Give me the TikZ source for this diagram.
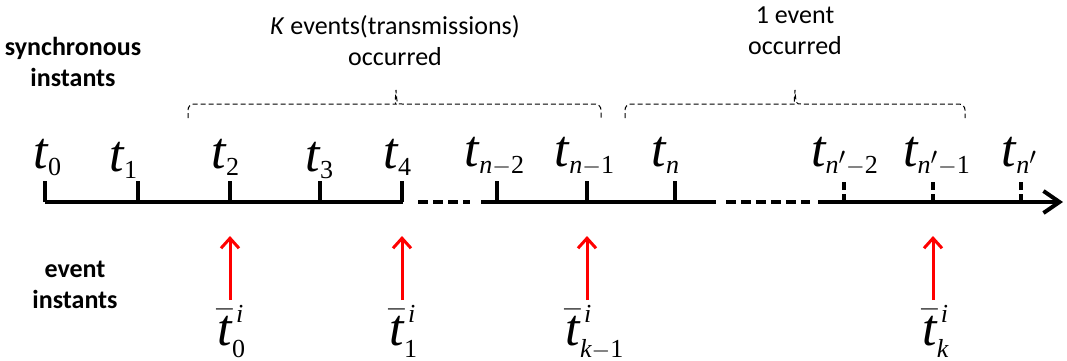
\documentclass[tikz,border=0pt]{standalone}
\usepackage{amsmath}
\usepackage{fontspec}
\setmainfont{Carlito}
\newfontfamily\tfont{Liberation Serif}
\newcommand{\tv}[1]{\text{\tfont\itshape #1}}
\newcommand{\tn}[1]{\text{\tfont #1}}
\newcommand{\sub}[1]{_{\scriptscriptstyle #1}}
\newcommand{\supi}{^{\scriptscriptstyle\,\tv{i}}}
\usetikzlibrary{arrows.meta,positioning,calc}

\begin{document}
\begin{tikzpicture}[x=0.5pt,y=-0.5pt,
  axis/.style={line width=2pt},
  gapline/.style={line width=2pt,dash pattern=on 5pt off 2.5pt},
  tickmark/.style={line width=1.6pt},
  dtickmark/.style={line width=1.6pt,dash pattern=on 4pt off 2pt},
  tlabel/.style={font=\fontsize{26}{30}\selectfont,anchor=base,inner sep=0pt},
  event/.style={red,line width=1.5pt,-{Straight Barb[length=5pt,width=9pt]}},
  side/.style={font=\fontsize{13}{15.5}\selectfont\bfseries,align=center},
  note/.style={font=\fontsize{13}{15.5}\selectfont,align=center},
  span/.style={line width=0.5pt,dash pattern=on 2.5pt off 1.5pt}
]
  \useasboundingbox (0,0) rectangle (1067,360);

  % side labels
  \node[side] (sync) at (73,62) {synchronous\\instants};
  \node[side] (evt) at (75,285) {event\\instants};

  % axis
  \coordinate (a0) at (45,202);
  \coordinate (a1) at (403,202);
  \coordinate (b0) at (481,202);
  \coordinate (b1) at (716,202);
  \coordinate (c0) at (818,202);
  \coordinate (c1) at (1063,202);
  \draw[axis] (a0) -- (a1);
  \draw[gapline] ([xshift=7.5pt]a1) -- ([xshift=-5.5pt]b0);
  \draw[axis] (b0) -- (b1);
  \draw[gapline] ([xshift=5pt]b1) -- ([xshift=-4pt]c0);
  \draw[axis,-{Straight Barb[length=8pt,width=11pt]}] (c0) -- (c1);

  % ticks
  \coordinate (t0) at (45,202);
  \coordinate (t1) at (138,202);
  \coordinate (t2) at (230,202);
  \coordinate (t3) at (320,202);
  \coordinate (t4) at (402,202);
  \coordinate (tn2) at (497,202);
  \coordinate (tn1) at (587,202);
  \coordinate (tn) at (675,202);
  \coordinate (tm2) at (844,202);
  \coordinate (tm1) at (933,202);
  \coordinate (tm) at (1021,202);
  \draw[tickmark] (t0) -- ++(0,-21);
  \draw[tickmark] (t1) -- ++(0,-21);
  \draw[tickmark] (t2) -- ++(0,-21);
  \draw[tickmark] (t3) -- ++(0,-21);
  \draw[tickmark] (t4) -- ++(0,-21);
  \draw[tickmark] (tn2) -- ++(0,-21);
  \draw[tickmark] (tn1) -- ++(0,-21);
  \draw[tickmark] (tn) -- ++(0,-21);
  \draw[dtickmark] (tm2) -- ++(0,-21);
  \draw[dtickmark] (tm1) -- ++(0,-21);
  \draw[dtickmark] (tm) -- ++(0,-21);

  % synchronous instants
  \node[tlabel] (l0) at (48,168) {$\tv{t}\sub{\tn{0}}$};
  \node[tlabel] (l1) at (124,171) {$\tv{t}\sub{\tn{1}}$};
  \node[tlabel] (l2) at (226,168) {$\tv{t}\sub{\tn{2}}$};
  \node[tlabel] (l3) at (320,171) {$\tv{t}\sub{\tn{3}}$};
  \node[tlabel] (l4) at (398,168) {$\tv{t}\sub{\tn{4}}$};
  \node[tlabel] (ln2) at (495,166) {$\tv{t}\sub{\tv{n}-\tn{2}}$};
  \node[tlabel] (ln1) at (585,166) {$\tv{t}\sub{\tv{n}-\tn{1}}$};
  \node[tlabel] (ln) at (666,166) {$\tv{t}\sub{\tv{n}}$};
  \node[tlabel] (lm2) at (845,166) {$\tv{t}\sub{\tv{n}'-\tn{2}}$};
  \node[tlabel] (lm1) at (937,166) {$\tv{t}\sub{\tv{n}'-\tn{1}}$};
  \node[tlabel] (lm) at (1020,166) {$\tv{t}\sub{\tv{n}'}$};

  % event instants
  \node[tlabel] (k0) at (232,345) {$\bar{\tv{t}}\supi\sub{\tn{0}}$};
  \node[tlabel] (k1) at (404,345) {$\bar{\tv{t}}\supi\sub{\tn{1}}$};
  \node[tlabel] (k2) at (595,345) {$\bar{\tv{t}}\supi\sub{\tv{k}-\tn{1}}$};
  \node[tlabel] (k3) at (936,345) {$\bar{\tv{t}}\supi\sub{\tv{k}}$};
  \coordinate (s0) at (230,300);
  \coordinate (s1) at (402,300);
  \coordinate (s2) at (587,300);
  \coordinate (s3) at (933,300);
  \draw[event] (s0) -- ++(0,-64);
  \draw[event] (s1) -- ++(0,-64);
  \draw[event] (s2) -- ++(0,-64);
  \draw[event] (s3) -- ++(0,-64);

  % braces
  \coordinate (p0) at (188,118);
  \coordinate (pm) at (396,90);
  \coordinate (p1) at (601,118);
  \coordinate (q0) at (625,118);
  \coordinate (qm) at (795,90);
  \coordinate (q1) at (965,118);
  \draw[span] (p0) [rounded corners=3pt] |- ($(pm)+(-6,14)$) [sharp corners]
    .. controls ($(pm)+(-1,14)$) .. (pm) .. controls ($(pm)+(1,14)$) .. ($(pm)+(6,14)$)
    [rounded corners=3pt] -| (p1);
  \draw[span] (q0) [rounded corners=3pt] |- ($(qm)+(-6,14)$) [sharp corners]
    .. controls ($(qm)+(-1,14)$) .. (qm) .. controls ($(qm)+(1,14)$) .. ($(qm)+(6,14)$)
    [rounded corners=3pt] -| (q1);
  \node[note] (many) at (395,41) {\textit{K} events(transmissions)\\occurred};
  \node[note] (one) at (795,31) {1 event\\occurred};
\end{tikzpicture}
\end{document}
